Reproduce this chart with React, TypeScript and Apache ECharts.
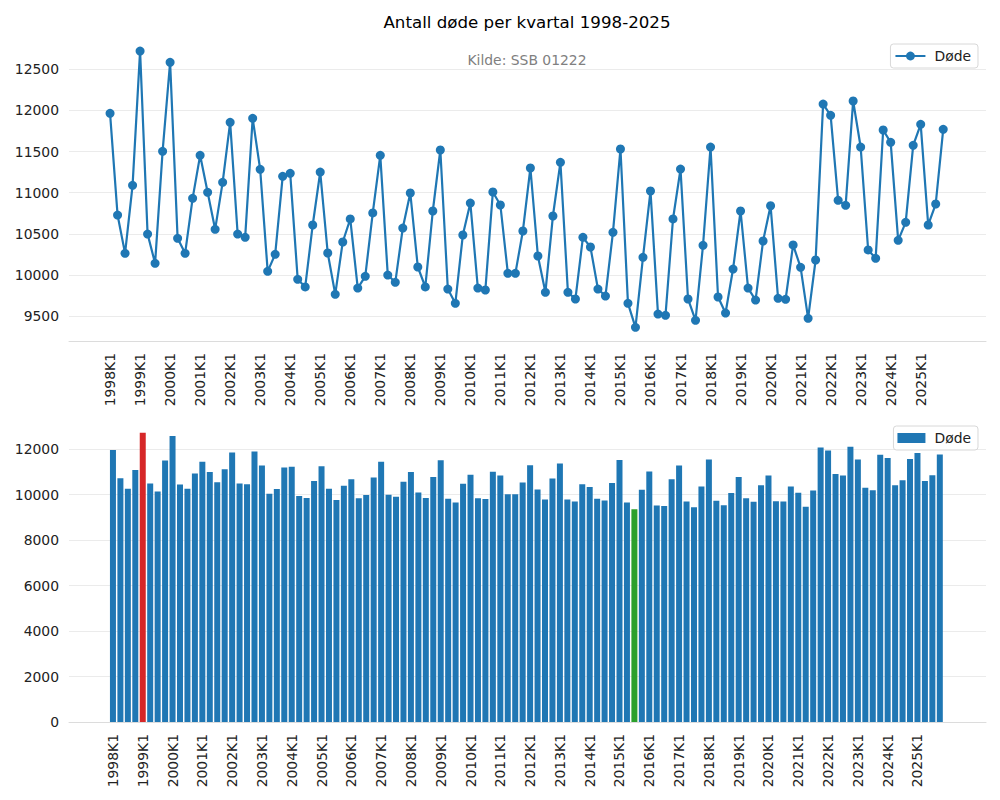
import React, { useEffect, useRef } from "react";
import * as echarts from "echarts";

const years: number[] = [
  1998, 1999, 2000, 2001, 2002, 2003, 2004, 2005, 2006, 2007, 2008, 2009, 2010, 2011,
  2012, 2013, 2014, 2015, 2016, 2017, 2018, 2019, 2020, 2021, 2022, 2023, 2024, 2025,
];
const quarterNames: string[] = ["K1", "K2", "K3", "K4"];
const quarters: string[] = years.flatMap((y) => quarterNames.map((q) => `${y}${q}`));

const deaths: number[] = [
  11965, 10728, 10262, 11089,
  12722, 10497, 10141, 11503,
  12585, 10445, 10262, 10931,
  11454, 11004, 10554, 11126,
  11855, 10497, 10457, 11904,
  11284, 10043, 10250, 11199,
  11235, 9946, 9853, 10607,
  11251, 10266, 9764, 10400,
  10680, 9840, 9983, 10753,
  11454, 9998, 9910, 10570,
  10996, 10096, 9853, 10777,
  11519, 9828, 9654, 10485,
  10874, 9840, 9816, 11008,
  10850, 10019, 10019, 10534,
  11300, 10230, 9788, 10716,
  11369, 9788, 9707, 10457,
  10339, 9828, 9743, 10518,
  11531, 9654, 9362, 10214,
  11020, 9524, 9508, 10680,
  11287, 9707, 9447, 10360,
  11555, 9731, 9536, 10071,
  10777, 9840, 9694, 10412,
  10841, 9715, 9703, 10364,
  10092, 9472, 10181, 12078,
  11941, 10907, 10846, 12115,
  11555, 10303, 10202, 11762,
  11612, 10420, 10639, 11576,
  11831, 10607, 10862, 11770,
];

const topYTicks: number[] = [9500, 10000, 10500, 11000, 11500, 12000, 12500];
const bottomYTicks: number[] = [0, 2000, 4000, 6000, 8000, 10000, 12000];
const xTickLabels: string[] = years.map((y) => `${y}K1`);

const FONT = "DejaVu Sans";
const BLUE = "#1f77b4";
const RED = "#d62728";
const GREEN = "#2ca02c";
const LABEL_SIZE = 13.9;

export default function App() {
  const ref = useRef<HTMLDivElement>(null);

  useEffect(() => {
    if (!ref.current) return;
    const chart = echarts.init(ref.current, undefined, { renderer: "svg" });

    const xTickPos = xTickLabels.map((l) => quarters.indexOf(l));
    const maxI = deaths.indexOf(Math.max(...deaths));
    const minI = deaths.indexOf(Math.min(...deaths));

    const xAxisCommon = (gridIndex: number, min: number, max: number) => ({
      type: "value" as const,
      gridIndex,
      min,
      max,
      axisLine: { show: true, onZero: false, lineStyle: { color: "#dcdcdc", width: 1 } },
      axisTick: { show: false, customValues: xTickPos },
      axisLabel: {
        customValues: xTickPos,
        formatter: (v: number) => quarters[Math.round(v)] ?? "",
        rotate: 90,
        margin: 12,
        fontSize: LABEL_SIZE,
        color: "#222",
        fontFamily: FONT,
      },
      splitLine: { show: false },
    });

    const yAxisCommon = (gridIndex: number, min: number, max: number, ticks: number[]) => ({
      type: "value" as const,
      gridIndex,
      min,
      max,
      axisLine: { show: false, onZero: false },
      axisTick: { show: false, customValues: ticks },
      axisLabel: {
        customValues: ticks,
        formatter: (v: number) => String(v),
        fontSize: LABEL_SIZE,
        color: "#222",
        margin: 10,
        fontFamily: FONT,
      },
      splitLine: { show: true, lineStyle: { color: "#ebebeb", width: 1 } },
    });

    const legendCommon = {
      right: 22,
      orient: "horizontal" as const,
      borderColor: "#d8d8d8",
      borderWidth: 1,
      borderRadius: 3,
      backgroundColor: "rgba(255,255,255,0.8)",
      padding: [5, 7, 5, 4],
      selectedMode: false,
      textStyle: { fontSize: LABEL_SIZE, color: "#222", fontFamily: FONT, padding: [0, 0, 0, 4] },
    };

    chart.setOption({
      animation: false,
      textStyle: { fontFamily: FONT },
      title: [
        {
          text: "Antall døde per kvartal 1998-2025",
          left: 527,
          top: 14,
          textAlign: "center",
          padding: 0,
          textStyle: { fontSize: 16.67, fontWeight: "normal", color: "#000", fontFamily: FONT },
        },
        {
          text: "Kilde: SSB 01222",
          left: 527,
          top: 53,
          textAlign: "center",
          padding: 0,
          textStyle: { fontSize: LABEL_SIZE, fontWeight: "normal", color: "#808080", fontFamily: FONT },
        },
      ],
      legend: [
        {
          ...legendCommon,
          top: 44,
          itemWidth: 30,
          itemHeight: 11,
          data: [{ name: "Døde" }],
        },
        {
          ...legendCommon,
          top: 426,
          itemWidth: 28,
          itemHeight: 10,
          data: [{ name: "Døde", icon: "rect", itemStyle: { color: BLUE } }],
        },
      ],
      grid: [
        { left: 69, right: 14, top: 38, height: 303 },
        { left: 69, right: 14, top: 419, height: 303 },
      ],
      xAxis: [xAxisCommon(0, -5.47, 116.7), xAxisCommon(1, -5.9, 117.2)],
      yAxis: [
        yAxisCommon(0, 9196, 12881, topYTicks),
        yAxisCommon(1, 0, 13332, bottomYTicks),
      ],
      series: [
        {
          type: "line",
          name: "Døde",
          xAxisIndex: 0,
          yAxisIndex: 0,
          data: deaths.map((v, i) => [i, v]),
          symbol: "circle",
          symbolSize: 9,
          lineStyle: { width: 2.2, color: BLUE },
          itemStyle: { color: BLUE },
          emphasis: { disabled: true },
        },
        {
          type: "bar",
          name: "Døde",
          xAxisIndex: 1,
          yAxisIndex: 1,
          barWidth: 6,
          itemStyle: { color: BLUE },
          emphasis: { disabled: true },
          data: deaths.map((v, i) => ({
            value: [i, v],
            itemStyle: { color: i === maxI ? RED : i === minI ? GREEN : BLUE },
          })),
        },
      ],
    });

    return () => chart.dispose();
  }, []);

  return (
    <div
      ref={ref}
      style={{ position: "fixed", left: 0, top: 0, width: 1000, height: 800, background: "#fff" }}
    />
  );
}
